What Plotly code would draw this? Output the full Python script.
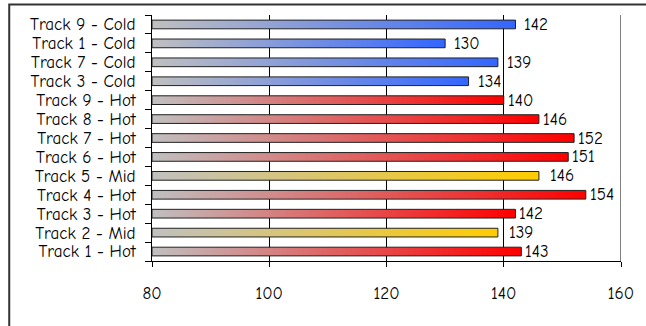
import plotly.graph_objects as go

# Track names listed top to bottom, with their values and temperature group
tracks = ["Track 9 - Cold", "Track 1 - Cold", "Track 7 - Cold", "Track 3 - Cold",
          "Track 9 - Hot", "Track 8 - Hot", "Track 7 - Hot", "Track 6 - Hot",
          "Track 5 - Mid", "Track 4 - Hot", "Track 3 - Hot", "Track 2 - Mid",
          "Track 1 - Hot"]
values = [142, 130, 139, 134, 140, 146, 152, 151, 146, 154, 142, 139, 143]
groups = ["Cold", "Cold", "Cold", "Cold", "Hot", "Hot", "Hot", "Hot",
          "Mid", "Hot", "Hot", "Mid", "Hot"]
x_ticks = [80, 100, 120, 140, 160]

BASE = 80
END_COLOR = {"Cold": "#3366ff", "Hot": "#ff0000", "Mid": "#ffcc00"}
LABEL_SHIFT = {"Cold": 7, "Hot": 2, "Mid": 9}
FONT = "Comic Sans MS, Comic Neue, DejaVu Sans, sans-serif"
FSIZE = 17
HALF = 0.23

n = len(tracks)
ypos = [n - 1 - i for i in range(n)]

fig = go.Figure()
annotations = []
for name, v, g, y in zip(tracks, values, groups, ypos):
    fig.add_trace(go.Scatter(
        x=[BASE, v, v, BASE, BASE],
        y=[y - HALF, y - HALF, y + HALF, y + HALF, y - HALF],
        mode="lines", fill="toself",
        fillgradient=dict(type="horizontal",
                          colorscale=[[0, "#c0c0c0"], [1, END_COLOR[g]]]),
        line=dict(color="#222222", width=1),
        hoverinfo="skip", showlegend=False, name=name,
    ))
    annotations.append(dict(
        x=v, y=y, xref="x", yref="y", text=str(v), showarrow=False,
        xanchor="left", yanchor="middle", xshift=LABEL_SHIFT[g],
        font=dict(family=FONT, size=FSIZE, color="black"),
    ))

fig.update_layout(
    width=646, height=326,
    margin=dict(l=152, r=21, t=15, b=65),
    paper_bgcolor="white", plot_bgcolor="white",
    font=dict(family=FONT, size=FSIZE, color="black"),
    annotations=annotations,
    shapes=[
        # right-hand grid line at the end of the value axis
        dict(type="line", xref="x", yref="paper",
             x0=x_ticks[-1], x1=x_ticks[-1], y0=0, y1=1,
             line=dict(color="black", width=1), layer="below"),
        # chart frame
        dict(type="rect", xref="paper", yref="paper",
             x0=-0.3044, x1=1.6, y0=-1.0, y1=1.0427,
             line=dict(color="#333333", width=2), layer="above"),
    ],
    xaxis=dict(
        range=[BASE, x_ticks[-1]], tickvals=x_ticks,
        ticktext=[str(t) for t in x_ticks],
        showgrid=True, gridcolor="black", gridwidth=1, zeroline=False,
        showline=True, linecolor="black", linewidth=1,
        ticks="outside", ticklen=5, tickcolor="black",
        ticklabelstandoff=12,
    ),
    yaxis=dict(
        range=[-0.5, n - 0.5], tickvals=ypos, ticktext=tracks,
        showgrid=False, zeroline=False,
        showline=True, linecolor="black", linewidth=1,
        ticks="", ticklabelstandoff=12,
        minor=dict(tickmode="linear", tick0=-0.5, dtick=1,
                   ticks="outside", ticklen=6, tickcolor="black", showgrid=False),
    ),
)

fig.write_html("out.html")
